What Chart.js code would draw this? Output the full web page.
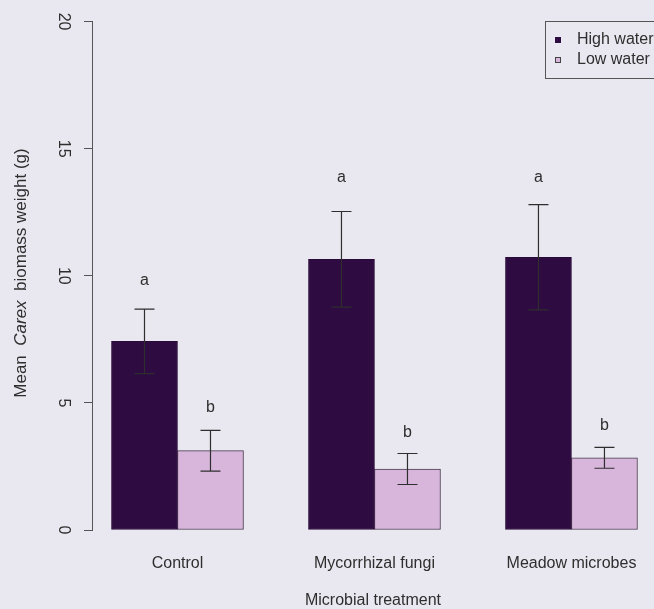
<!DOCTYPE html>
<html>
<head>
<meta charset="utf-8">
<script src="https://cdn.jsdelivr.net/npm/chart.js@4"></script>
<style>
  html, body { margin: 0; padding: 0; background: #e9e8f0; overflow: hidden; }
  canvas { display: block; }
</style>
</head>
<body>
<canvas id="carexChart" width="654" height="609"></canvas>
<script>
// values
var categories = ["Control", "Mycorrhizal fungi", "Meadow microbes"];
var seriesNames = ["High water", "Low water"];
var highWater = [7.42, 10.65, 10.73];
var lowWater = [3.12, 2.40, 2.84];
var highSE = [1.27, 1.88, 2.07];
var lowSE = [0.80, 0.61, 0.41];
var highLetters = ["a", "a", "a"];
var lowLetters = ["b", "b", "b"];
var highLetterY = [9.83, 13.87, 13.87];
var lowLetterY = [4.82, 3.84, 4.11];
var yTicks = [0, 5, 10, 15, 20];

var darkPurple = "#2e0b40";
var lightPink = "#d8b6dc";
var inkColor = "#2e2e2e";
var axisColor = "#555555";

Chart.defaults.font.family = '"Liberation Sans", Arial, sans-serif';
Chart.defaults.font.size = 16;
Chart.defaults.color = inkColor;

var errors = [highSE, lowSE];
var letters = [highLetters, lowLetters];
var letterY = [highLetterY, lowLetterY];

function toPoints(values) {
  return values.map(function (v, i) { return { x: i, y: v }; });
}

var errorBars = {
  id: "errorBars",
  afterDatasetsDraw: function (chart) {
    var ctx = chart.ctx;
    var yScale = chart.scales.y;
    ctx.save();
    ctx.strokeStyle = inkColor;
    ctx.lineWidth = 1.2;
    chart.data.datasets.forEach(function (ds, d) {
      var meta = chart.getDatasetMeta(d);
      meta.data.forEach(function (bar, i) {
        var v = ds.data[i].y;
        var top = yScale.getPixelForValue(v + errors[d][i]);
        var bottom = yScale.getPixelForValue(v - errors[d][i]);
        ctx.beginPath();
        ctx.moveTo(bar.x, top);
        ctx.lineTo(bar.x, bottom);
        ctx.moveTo(bar.x - 10, top);
        ctx.lineTo(bar.x + 10, top);
        ctx.moveTo(bar.x - 10, bottom);
        ctx.lineTo(bar.x + 10, bottom);
        ctx.stroke();
      });
    });
    // significance letters
    ctx.fillStyle = inkColor;
    ctx.font = '16px "Liberation Sans", Arial, sans-serif';
    ctx.textAlign = "center";
    ctx.textBaseline = "middle";
    chart.data.datasets.forEach(function (ds, d) {
      var meta = chart.getDatasetMeta(d);
      meta.data.forEach(function (bar, i) {
        ctx.fillText(letters[d][i], bar.x, yScale.getPixelForValue(letterY[d][i]));
      });
    });
    ctx.restore();
  }
};

var extras = {
  id: "extras",
  afterDraw: function (chart) {
    var ctx = chart.ctx;
    ctx.save();
    // y axis title with italic genus name
    var normal = '17px "Liberation Sans", Arial, sans-serif';
    var italic = 'italic 17px "Liberation Sans", Arial, sans-serif';
    var parts = [["Mean  ", normal], ["Carex", italic], ["  biomass weight (g)", normal]];
    var total = 0;
    parts.forEach(function (p) { ctx.font = p[1]; total += ctx.measureText(p[0]).width; });
    ctx.translate(21, 273);
    ctx.rotate(-Math.PI / 2);
    ctx.fillStyle = inkColor;
    ctx.textBaseline = "middle";
    ctx.textAlign = "left";
    var x = -total / 2;
    parts.forEach(function (p) {
      ctx.font = p[1];
      ctx.fillText(p[0], x, 0);
      x += ctx.measureText(p[0]).width;
    });
    ctx.restore();

    // legend box in the top right corner
    ctx.save();
    ctx.strokeStyle = axisColor;
    ctx.lineWidth = 1;
    ctx.strokeRect(545.5, 21.5, 130, 57);
    ctx.font = '16px "Liberation Sans", Arial, sans-serif';
    ctx.textBaseline = "middle";
    chart.data.datasets.forEach(function (ds, d) {
      var cy = 40 + d * 20;
      ctx.fillStyle = ds.backgroundColor;
      ctx.fillRect(555, cy - 3, 6, 6);
      ctx.strokeStyle = d === 0 ? ds.backgroundColor : "#444";
      ctx.strokeRect(555.5, cy - 2.5, 5, 5);
      ctx.fillStyle = inkColor;
      ctx.fillText(ds.label, 577, cy);
    });
    ctx.restore();
  }
};

var ctx = document.getElementById("carexChart").getContext("2d");
var carexChart = new Chart(ctx, {
  type: "bar",
  data: {
    datasets: [
      {
        label: seriesNames[0],
        data: toPoints(highWater),
        backgroundColor: darkPurple,
        borderColor: "#2a0a38",
        borderWidth: 1,
        borderSkipped: false
      },
      {
        label: seriesNames[1],
        data: toPoints(lowWater),
        backgroundColor: lightPink,
        borderColor: "#4a3a4c",
        borderWidth: 1,
        borderSkipped: false
      }
    ]
  },
  options: {
    responsive: false,
    animation: false,
    barThickness: 66,
    layout: { padding: { top: 19.3, right: 0, bottom: 0, left: 0 } },
    plugins: {
      legend: { display: false },
      tooltip: { enabled: false }
    },
    scales: {
      x: {
        type: "linear",
        min: -0.434,
        max: 2.419,
        offset: false,
        afterBuildTicks: function (scale) {
          scale.ticks = categories.map(function (c, i) { return { value: i }; });
        },
        afterFit: function (scale) { scale.height = 79; },
        ticks: {
          autoSkip: false,
          maxRotation: 0,
          padding: 0,
          color: inkColor,
          callback: function (value) { return categories[value]; }
        },
        grid: { display: false, drawTicks: true, tickLength: 24 },
        border: { display: false },
        title: {
          display: true,
          text: "Microbial treatment",
          color: inkColor,
          font: { size: 16, lineHeight: 1 },
          padding: 0
        }
      },
      y: {
        min: 0,
        max: 20,
        afterBuildTicks: function (scale) {
          scale.ticks = yTicks.map(function (v) { return { value: v }; });
        },
        afterFit: function (scale) { scale.width = 92; },
        ticks: {
          minRotation: -90,
          maxRotation: -90,
          crossAlign: "center",
          padding: 12,
          color: inkColor
        },
        grid: {
          drawOnChartArea: false,
          drawTicks: true,
          tickLength: 8,
          color: axisColor
        },
        border: { display: true, color: axisColor }
      }
    }
  },
  plugins: [errorBars, extras]
});
</script>
</body>
</html>
